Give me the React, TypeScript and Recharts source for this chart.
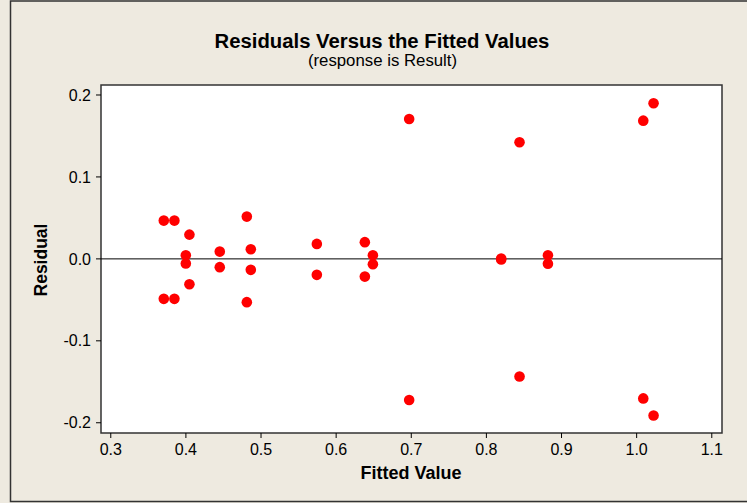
import React from 'react';
import { ScatterChart, Scatter, XAxis, YAxis, ReferenceLine, ReferenceArea } from 'recharts';

// Fitted values and residuals (pairs share a fitted value)
const fitted = [
    0.3706, 0.3706, 0.3847, 0.3847, 0.3999, 0.3999, 0.4047, 0.4047,
    0.4451, 0.4451, 0.4811, 0.4811, 0.4864, 0.4864, 0.5743, 0.5743,
    0.6382, 0.6382, 0.6489, 0.6489, 0.6972, 0.6972, 0.8197, 0.8197,
    0.8441, 0.8441, 0.8819, 0.8819, 1.0088, 1.0088, 1.0225, 1.0225,
];
const residual = [
    0.0467, -0.0488, 0.0467, -0.0488, 0.0045, -0.0055, 0.0296, -0.0309,
    0.0089, -0.0101, 0.0516, -0.0528, 0.0118, -0.0134, 0.0183, -0.0195,
    0.0204, -0.0216, 0.0045, -0.0065, 0.1707, -0.1723, 0.0005, -0.0008,
    0.1423, -0.1435, 0.0045, -0.0058, 0.1687, -0.1703, 0.1899, -0.1911,
];

const xTicks = [0.3, 0.4, 0.5, 0.6, 0.7, 0.8, 0.9, 1.0, 1.1];
const yTicks = [-0.2, -0.1, 0, 0.1, 0.2];

const X_DOMAIN: [number, number] = [0.287, 1.1136];
const Y_DOMAIN: [number, number] = [-0.2125, 0.2122];

const points = fitted.map((f, i) => ({ fit: f, res: residual[i] }));

const W = 747;
const H = 503;
const BG = '#eeeae0';
const FONT = 'Arial, "Liberation Sans", sans-serif';

const Dot = (p: any) => <circle cx={p.cx} cy={p.cy} r={5.3} fill="#ff0000" />;

export default function App() {
    return (
        <div style={{ position: 'absolute', left: 0, top: 0, width: W, height: H, background: BG, fontFamily: FONT }}>
            {/* frame, titles, axis labels */}
            <svg width={W} height={H} style={{ position: 'absolute', left: 0, top: 0 }}>
                <rect x={10.5} y={1} width={W} height={500.5} fill={BG} stroke="#333" strokeWidth={1.5} />
                <text x={382} y={47.5} textAnchor="middle" fontSize={20.3} fontWeight="bold" fontFamily={FONT} fill="#000">
                    Residuals Versus the Fitted Values
                </text>
                <text x={382.5} y={65.5} textAnchor="middle" fontSize={16.8} fontFamily={FONT} fill="#000">
                    (response is Result)
                </text>
                <text x={411} y={478.5} textAnchor="middle" fontSize={18} fontWeight="bold" fontFamily={FONT} fill="#000">
                    Fitted Value
                </text>
                <text
                    x={47}
                    y={260}
                    textAnchor="middle"
                    fontSize={17.5}
                    fontWeight="bold"
                    fontFamily={FONT}
                    fill="#000"
                    transform="rotate(-90 47 260)"
                >
                    Residual
                </text>
            </svg>
            <div style={{ position: 'absolute', left: 0, top: 0 }}>
                <ScatterChart width={W} height={H} margin={{ top: 85, right: 25, left: 0, bottom: 0 }}>
                    <XAxis
                        type="number"
                        dataKey="fit"
                        domain={X_DOMAIN}
                        allowDataOverflow
                        ticks={xTicks}
                        tickFormatter={(v: number) => v.toFixed(1)}
                        axisLine={false}
                        tickSize={5}
                        tickMargin={6}
                        tickLine={{ stroke: '#000' }}
                        tick={{ fill: '#000', fontSize: 16, fontFamily: FONT }}
                        height={70}
                        interval={0}
                    />
                    <YAxis
                        type="number"
                        dataKey="res"
                        domain={Y_DOMAIN}
                        allowDataOverflow
                        ticks={yTicks}
                        tickFormatter={(v: number) => v.toFixed(1)}
                        axisLine={false}
                        tickSize={5}
                        tickMargin={5}
                        tickLine={{ stroke: '#000' }}
                        tick={{ fill: '#000', fontSize: 16, fontFamily: FONT }}
                        width={101}
                        interval={0}
                    />
                    <ReferenceArea
                        x1={X_DOMAIN[0]}
                        x2={X_DOMAIN[1]}
                        y1={Y_DOMAIN[0]}
                        y2={Y_DOMAIN[1]}
                        fill="#ffffff"
                        fillOpacity={1}
                        stroke="#333"
                        strokeWidth={1.5}
                    />
                    <ReferenceLine y={0} stroke="#000" strokeWidth={1} />
                    <Scatter data={points} shape={Dot} isAnimationActive={false} />
                </ScatterChart>
            </div>
        </div>
    );
}
